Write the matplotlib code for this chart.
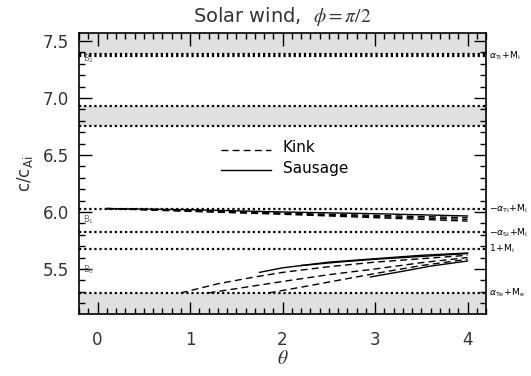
import matplotlib
matplotlib.use("Agg")
import matplotlib.pyplot as plt
from matplotlib.ticker import MultipleLocator

plt.rcParams["mathtext.fontset"] = "stix"

# ---- data ----
x_ticks = [0, 1, 2, 3, 4]
y_ticks = [5.5, 6.0, 6.5, 7.0, 7.5]

# horizontal reference levels (dotted)
ref_levels = [7.385, 7.368, 6.93, 6.75, 6.03, 5.82, 5.675, 5.29]
# shaded gray bands (low, high)
band_top = (7.385, 7.6)
band_mid = (6.75, 6.93)
band_bot = (5.0, 5.29)

# right side labels: (value, text)
right_labels = [
    (7.37, r"$\alpha_{\mathrm{Ti}}\!+\!\mathrm{M_i}$"),
    (6.03, r"$-\alpha_{\mathrm{Ti}}\!+\!\mathrm{M_i}$"),
    (5.82, r"$-\alpha_{\mathrm{Si}}\!+\!\mathrm{M_i}$"),
    (5.675, r"$1\!+\!\mathrm{M_i}$"),
    (5.29, r"$\alpha_{\mathrm{Te}}\!+\!\mathrm{M_e}$"),
]
left_labels = [(7.345, r"B$_2$"), (5.93, r"B$_1$"), (5.49, r"B$_0$")]

# kink (dashed) branches
kink_theta = [
    [0.1, 1.0, 2.0, 3.0, 4.0],
    [0.1, 1.0, 2.0, 3.0, 4.0],
    [0.1, 1.0, 2.0, 3.0, 4.0],
    [0.9, 1.3, 1.7, 2.0, 2.5, 3.0, 3.5, 4.0],
    [1.2, 1.6, 2.0, 2.5, 3.0, 3.5, 4.0],
    [1.85, 2.2, 2.6, 3.0, 3.5, 4.0],
]
kink_vals = [
    [6.03, 6.015, 5.99, 5.97, 5.95],
    [6.03, 6.01, 5.985, 5.96, 5.935],
    [6.03, 6.005, 5.98, 5.95, 5.92],
    [5.29, 5.37, 5.43, 5.47, 5.52, 5.56, 5.59, 5.62],
    [5.29, 5.34, 5.39, 5.45, 5.50, 5.555, 5.60],
    [5.29, 5.34, 5.40, 5.46, 5.53, 5.585],
]
# sausage (solid) branches
saus_theta = [
    [0.1, 1.0, 2.0, 3.0, 4.0],
    [1.75, 2.0, 2.5, 3.0, 3.5, 4.0],
    [2.2, 2.6, 3.0, 3.5, 4.0],
    [2.95, 3.3, 3.6, 4.0],
]
saus_vals = [
    [6.03, 6.02, 6.0, 5.985, 5.965],
    [5.47, 5.51, 5.56, 5.59, 5.62, 5.64],
    [5.53, 5.56, 5.585, 5.61, 5.635],
    [5.43, 5.48, 5.525, 5.57],
]

fig = plt.figure(figsize=(5.31, 3.76), dpi=100)
ax = fig.add_axes([0.1488, 0.1649, 0.7665, 0.7473])
gray_txt = "#333333"

ax.set_xlim(-0.2, 4.2)
ax.set_ylim(5.105, 7.57)

for lo, hi in (band_top, band_mid, band_bot):
    ax.axhspan(lo, hi, color="#e0e0e0", lw=0, zorder=0)
for v in ref_levels:
    ax.axhline(v, color="black", lw=1.6, ls=(0, (1, 1.3)), zorder=2)

for th, v in zip(kink_theta, kink_vals):
    ax.plot(th, v, color="black", lw=1.0, ls=(0, (5, 3)), zorder=3)
for th, v in zip(saus_theta, saus_vals):
    ax.plot(th, v, color="black", lw=1.0, ls="-", zorder=3)

# legend drawn as in the original
ax.plot([1.33, 1.88], [6.544, 6.544], color="black", lw=1.0, ls=(0, (5, 3)))
ax.plot([1.33, 1.88], [6.368, 6.368], color="black", lw=1.0, ls="-")
ax.text(2.0, 6.565, "Kink", fontsize=11, va="center", ha="left")
ax.text(2.0, 6.385, "Sausage", fontsize=11, va="center", ha="left")

for v, s in right_labels:
    ax.annotate(s, xy=(1.0, v), xycoords=("axes fraction", "data"),
                xytext=(2, 0), textcoords="offset points",
                fontsize=6.6, va="center", ha="left", color="black",
                annotation_clip=False, math_fontfamily="dejavusans")
for v, s in left_labels:
    ax.annotate(s, xy=(0.0, v), xycoords=("axes fraction", "data"),
                xytext=(3, 0), textcoords="offset points",
                fontsize=6, va="center", ha="left", color="#666666",
                math_fontfamily="dejavusans")

ax.set_xticks(x_ticks)
ax.set_yticks(y_ticks)
ax.set_xticklabels([str(t) for t in x_ticks])
ax.set_yticklabels([f"{t:.1f}" for t in y_ticks])
ax.xaxis.set_minor_locator(MultipleLocator(0.1))
ax.yaxis.set_minor_locator(MultipleLocator(0.1))
ax.tick_params(which="both", direction="in", top=True, right=True,
               labelsize=12, labelcolor=gray_txt)
ax.tick_params(axis="x", which="major", pad=12)
ax.tick_params(axis="y", which="major", pad=7)
ax.tick_params(which="major", length=9, width=1)
ax.tick_params(which="minor", length=4.5, width=1)
for sp in ax.spines.values():
    sp.set_linewidth(1.2)

ax.set_title(r"Solar wind,  $\phi=\pi/2$", fontsize=14, color=gray_txt, pad=8)
ax.set_xlabel(r"$\theta$", fontsize=14, color=gray_txt, labelpad=0)
ax.set_ylabel(r"c/c$_{\mathrm{Ai}}$", fontsize=12, color=gray_txt, labelpad=6,
              math_fontfamily="dejavusans")

fig.savefig("out.png", dpi=100)
